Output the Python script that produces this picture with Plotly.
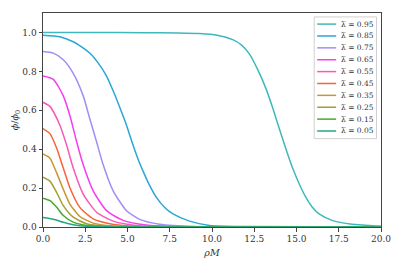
import plotly.graph_objects as go

labels = ["0.95", "0.85", "0.75", "0.65", "0.55", "0.45", "0.35", "0.25", "0.15", "0.05"]
colors = ["#3fb8bc", "#2ba6d6", "#a58cf5", "#f53cf0", "#f759b8", "#f7633a",
          "#c99630", "#a3a032", "#45ab2f", "#27a683"]

x095 = [0, 3, 6, 8, 9.26, 10.3, 11.23, 11.75, 12.21, 12.7, 13.2, 13.6, 13.98, 14.38, 14.77, 15.17,
        15.56, 15.95, 16.34, 17.1, 18.3, 19.9, 20]
y095 = [1.0, 1.0, 0.999, 0.997, 0.994, 0.986, 0.963, 0.935, 0.89, 0.81, 0.71, 0.61, 0.506, 0.4,
        0.303, 0.22, 0.152, 0.1, 0.067, 0.034, 0.014, 0.005, 0.004]

x085 = [0, 1.0, 1.79, 2.3, 2.77, 3.25, 3.76, 4.15, 4.54, 4.94, 5.33, 5.62, 5.92, 6.3, 6.71, 7.2,
        7.69, 8.67, 9.85, 12, 20]
y085 = [0.986, 0.978, 0.952, 0.925, 0.894, 0.845, 0.776, 0.7, 0.615, 0.523, 0.42, 0.35, 0.287,
        0.215, 0.152, 0.1, 0.067, 0.03, 0.008, 0.002, 0.0]

x075 = [0, 0.61, 1.2, 1.79, 2.38, 2.77, 3.17, 3.56, 4.15, 4.94, 5.72, 6.9, 9, 20]
y075 = [0.902, 0.894, 0.86, 0.79, 0.674, 0.556, 0.438, 0.32, 0.186, 0.084, 0.039, 0.014, 0.002, 0.0]

x065 = [0, 0.61, 1.2, 1.59, 1.99, 2.38, 2.97, 3.76, 4.74, 6.1, 8, 20]
y065 = [0.776, 0.759, 0.674, 0.573, 0.438, 0.32, 0.186, 0.084, 0.034, 0.01, 0.002, 0.0]

x055 = [0, 0.41, 1.0, 1.4, 1.79, 2.38, 3.17, 4.15, 5.5, 7.5, 20]
y055 = [0.641, 0.62, 0.523, 0.42, 0.303, 0.169, 0.076, 0.03, 0.008, 0.001, 0.0]

x045 = [0, 0.41, 0.81, 1.2, 1.59, 2.18, 2.97, 3.96, 5.1, 7, 20]
y045 = [0.506, 0.48, 0.405, 0.303, 0.202, 0.101, 0.042, 0.017, 0.005, 0.001, 0.0]

x035 = [0, 0.41, 0.81, 1.2, 1.59, 2.18, 2.97, 4.15, 6, 20]
y035 = [0.376, 0.354, 0.278, 0.194, 0.118, 0.054, 0.02, 0.005, 0.001, 0.0]

x025 = [0, 0.41, 0.81, 1.2, 1.79, 2.57, 3.76, 5.5, 20]
y025 = [0.256, 0.236, 0.177, 0.11, 0.051, 0.017, 0.004, 0.001, 0.0]

x015 = [0, 0.41, 0.81, 1.2, 1.79, 2.57, 3.8, 5.5, 20]
y015 = [0.148, 0.135, 0.101, 0.059, 0.025, 0.008, 0.002, 0.0, 0.0]

x005 = [0, 0.61, 1.2, 1.79, 2.57, 3.8, 5.5, 20]
y005 = [0.049, 0.04, 0.024, 0.012, 0.004, 0.001, 0.0, 0.0]

xs = [x095, x085, x075, x065, x055, x045, x035, x025, x015, x005]
ys = [y095, y085, y075, y065, y055, y045, y035, y025, y015, y005]

x_ticks = [0, 2.5, 5, 7.5, 10, 12.5, 15, 17.5, 20]
x_tick_text = ["0.0", "2.5", "5.0", "7.5", "10.0", "12.5", "15.0", "17.5", "20.0"]
y_ticks = [0, 0.2, 0.4, 0.6, 0.8, 1.0]
y_tick_text = ["0.0", "0.2", "0.4", "0.6", "0.8", "1.0"]

FONT = "DejaVu Serif"

W, H = 403, 269
ML, MR, MT, MB = 43, 21, 12, 39
PW, PH = W - ML - MR, H - MT - MB


def px2paper_x(px):
    return (px - ML) / PW


def px2paper_y(py):
    return (H - MB - py) / PH


fig = go.Figure()
for lab, col, x, y in zip(labels, colors, xs, ys):
    fig.add_trace(go.Scatter(
        x=x, y=y, mode="lines", name="λ\u0305 = " + lab, showlegend=False,
        line=dict(color=col, width=1.5, shape="spline", smoothing=0.6),
    ))

shapes = [dict(type="rect", xref="paper", yref="paper",
               x0=px2paper_x(315), x1=px2paper_x(377.5),
               y0=px2paper_y(140), y1=px2paper_y(16),
               line=dict(color="#d0d0d0", width=1), fillcolor="rgba(255,255,255,0.85)",
               layer="above")]
annotations = []
for i, (lab, col) in enumerate(zip(labels, colors)):
    cy = 23.3 + i * 12.1
    shapes.append(dict(type="line", xref="paper", yref="paper",
                       x0=px2paper_x(318), x1=px2paper_x(337),
                       y0=px2paper_y(cy), y1=px2paper_y(cy),
                       line=dict(color=col, width=1.5), layer="above"))
    annotations.append(dict(xref="paper", yref="paper", x=px2paper_x(340), y=px2paper_y(cy),
                            xanchor="left", yanchor="middle", showarrow=False,
                            text="λ\u0305 = " + lab,
                            font=dict(family=FONT, size=7.5, color="#333")))

axis_common = dict(
    showline=True, linecolor="#444", linewidth=1, mirror=True,
    ticks="outside", ticklen=3.5, tickcolor="#444", tickwidth=1,
    showgrid=False, zeroline=False,
    tickfont=dict(family=FONT, size=9, color="#333"),
)

fig.update_layout(
    width=W, height=H,
    margin=dict(l=ML, r=MR, t=MT, b=MB),
    paper_bgcolor="white", plot_bgcolor="white",
    font=dict(family=FONT, color="#333"),
    showlegend=False,
    shapes=shapes,
    annotations=annotations,
    xaxis=dict(range=[0, 20], tickvals=x_ticks, ticktext=x_tick_text,
               title=dict(text="<i>ρM</i>", font=dict(family=FONT, size=9.5), standoff=6),
               **axis_common),
    yaxis=dict(range=[0, 1.1], tickvals=y_ticks, ticktext=y_tick_text,
               title=dict(text="<i>ϕ</i>/<i>ϕ</i><sub>0</sub>", font=dict(family=FONT, size=9.5), standoff=2),
               **axis_common),
)

fig.write_html("out.html", config={"displayModeBar": False},
               post_script="document.body.style.margin='0';")
